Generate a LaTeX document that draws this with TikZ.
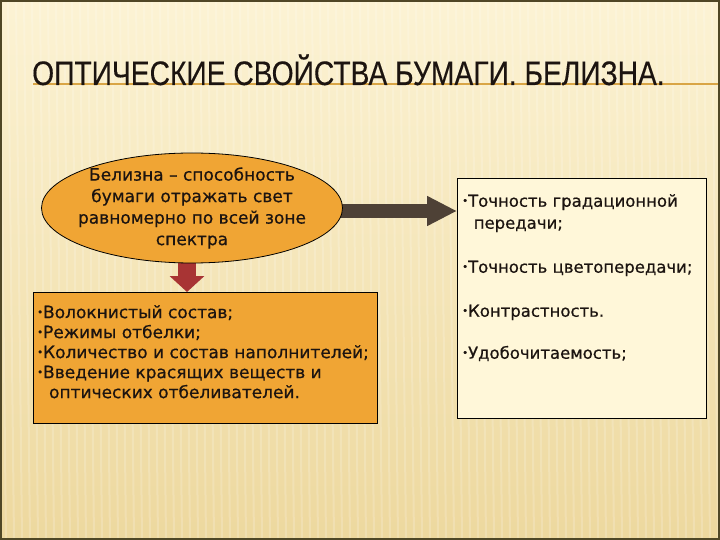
\documentclass[tikz,border=0pt]{standalone}
\usepackage{fontspec}
\setmainfont[FakeBold=0.6]{DejaVu Sans}
\newfontfamily\titlefont[FakeStretch=0.83,FakeBold=0.3]{Liberation Sans}
\usetikzlibrary{shapes.geometric,arrows.meta}
\definecolor{bgtop}{HTML}{FCF3D4}
\definecolor{bgbot}{HTML}{EDD89E}
\definecolor{frame}{HTML}{4F4726}
\definecolor{titleline}{HTML}{D9A545}
\definecolor{orangefill}{HTML}{F0A534}
\definecolor{creamfill}{HTML}{FFF7D9}
\definecolor{darkarrow}{HTML}{4E4136}
\definecolor{redarrow}{HTML}{A83434}
\definecolor{ink}{HTML}{1C1410}
\newcommand\mybul{{\fontsize{10}{10}\selectfont\raisebox{2.5pt}{•}}}
\pgfdeclarelayer{bg}
\pgfdeclarelayer{arrowlayer}
\pgfsetlayers{bg,arrowlayer,main}
\begin{document}
\begin{tikzpicture}[x=1pt,y=-1pt,
  bodytext/.style={text=ink, inner sep=0, align=left, font=\fontsize{17}{20}\selectfont},
  rarrow/.style={draw=darkarrow, line width=14pt, -{Triangle[length=30pt,width=28pt]}},
  darrow/.style={draw=redarrow, line width=18pt, -{Triangle[length=16pt,width=34pt]}}]
\useasboundingbox (0,0) rectangle (720,540);
\begin{pgfonlayer}{bg}
  \shade[top color=bgtop, bottom color=bgbot] (0,0) rectangle (720,540);
  \begin{scope}
    \clip (0,0) rectangle (720,540);
    \foreach \i in {0,8,...,720} {
      \draw[white, opacity=0.18, line width=2pt] (\i,0) -- (\i+6,540);
    }
  \end{scope}
  \draw[frame, line width=2pt] (1,1) rectangle (719,539);
  \draw[titleline, line width=1.5pt] (33,84) -- (718,84);
\end{pgfonlayer}

\node[anchor=base west, inner sep=0, text=ink, font=\titlefont\fontsize{34}{34}\selectfont] (title) at (32,85) {ОПТИЧЕСКИЕ СВОЙСТВА БУМАГИ. БЕЛИЗНА.};

\node[ellipse, draw=black, line width=0.8pt, fill=orangefill, minimum width=301pt, minimum height=110pt, inner sep=0] (ell) at (192,208) {};
\node[align=center, inner sep=0, text=ink, font=\fontsize{17}{21.5}\selectfont] (elltext) at (ell.center)
  {Белизна – способность\\бумаги отражать свет\\равномерно по всей зоне\\спектра};

\node[draw=black, line width=0.8pt, fill=creamfill, minimum width=249pt, minimum height=240pt, anchor=north west, inner sep=0] (rbox) at (457,178) {};
\node[bodytext, anchor=north west, font=\fontsize{16.5}{22}\selectfont] (rtext) at (462,194)
  {\mybul Точность градационной\\\hspace{0.7em}передачи;\\[22pt]\mybul Точность цветопередачи;\\[22pt]\mybul Контрастность.\\[20pt]\mybul Удобочитаемость;};

\node[draw=black, line width=0.8pt, fill=orangefill, minimum width=344pt, minimum height=131pt, anchor=north west, inner sep=0] (lbox) at (33,292) {};
\node[bodytext, anchor=north west] (ltext) at (37,305)
  {\mybul Волокнистый состав;\\\mybul Режимы отбелки;\\\mybul Количество и состав наполнителей;\\\mybul Введение красящих веществ и\\\hspace{0.7em}оптических отбеливателей.};

\begin{pgfonlayer}{arrowlayer}
  \draw[rarrow] ([yshift=-3pt]ell.center) -- ([yshift=-3pt]ell.center -| rbox.west);
  \draw[darrow] ([xshift=-5pt]ell.center) -- ([xshift=-5pt]ell.center |- lbox.north);
\end{pgfonlayer}
\end{tikzpicture}
\end{document}
